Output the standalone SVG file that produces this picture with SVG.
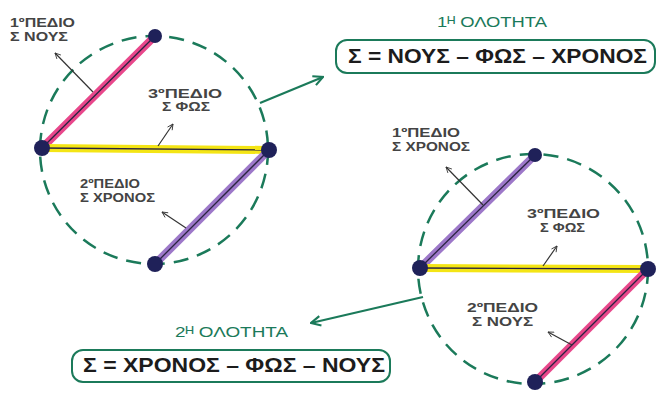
<svg xmlns="http://www.w3.org/2000/svg" width="669" height="403" viewBox="0 0 669 403">
<style>
.ring{fill:none;stroke:#1b7a5a;stroke-width:2.5;stroke-dasharray:15 9}
.dot{fill:#1f2159}
.core{stroke:#2a2440;stroke-width:1.3;fill:none}
.pink{stroke:#e8478b;stroke-width:8;stroke-linecap:round;fill:none}
.yel{stroke:#f4e515;stroke-width:8;fill:none}
.pur{stroke:#9d78c9;stroke-width:8;stroke-linecap:round;fill:none}
.lbl{font-family:"Liberation Sans","DejaVu Sans",sans-serif;font-size:12.5px;font-weight:bold;fill:#444}
.ttl{font-family:"Liberation Sans","DejaVu Sans",sans-serif;font-size:14px;fill:#1b7a5a}
.frm{font-family:"Liberation Sans","DejaVu Sans",sans-serif;font-size:21px;font-weight:bold;fill:#1c1c1c}
.box{fill:#fff;stroke:#1b7a5a;stroke-width:2}
.ptr{stroke:#333;stroke-width:1.2;fill:none;marker-end:url(#ah)}
.gar{stroke:#1b7a5a;stroke-width:2.2;fill:none;marker-end:url(#gh)}
</style>
<defs>
<marker id="ah" viewBox="0 0 10 10" refX="9" refY="5" markerWidth="7" markerHeight="7" orient="auto" markerUnits="userSpaceOnUse">
<path d="M1,1 L9,5 L1,9" fill="none" stroke="#333" stroke-width="1.2"/>
</marker>
<marker id="gh" viewBox="0 0 10 10" refX="9" refY="5" markerWidth="12" markerHeight="12" orient="auto" markerUnits="userSpaceOnUse">
<path d="M1,1 L9,5 L1,9" fill="none" stroke="#1b7a5a" stroke-width="1.8"/>
</marker>
</defs>
<rect width="669" height="403" fill="#ffffff"/>

<g id="circle1">
<circle class="ring" cx="154" cy="150" r="114"/>
<line class="pink" x1="42" y1="148" x2="155" y2="36"/>
<line class="core" x1="42" y1="148" x2="155" y2="36"/>
<line class="yel" x1="42" y1="148" x2="269" y2="150"/>
<line class="core" x1="42" y1="148" x2="269" y2="150"/>
<line class="pur" x1="269" y1="150" x2="155" y2="264"/>
<line class="core" x1="269" y1="150" x2="155" y2="264"/>
<circle class="dot" cx="42" cy="148" r="8"/>
<circle class="dot" cx="155" cy="36" r="7"/>
<circle class="dot" cx="269" cy="150" r="8"/>
<circle class="dot" cx="155" cy="264" r="8"/>
</g>

<g id="circle2">
<circle class="ring" cx="533" cy="269" r="115"/>
<line class="pur" x1="420" y1="268" x2="535" y2="155"/>
<line class="core" x1="420" y1="268" x2="535" y2="155"/>
<line class="yel" x1="420" y1="268" x2="648" y2="269"/>
<line class="core" x1="420" y1="268" x2="648" y2="269"/>
<line class="pink" x1="648" y1="269" x2="535" y2="382"/>
<line class="core" x1="648" y1="269" x2="535" y2="382"/>
<circle class="dot" cx="420" cy="268" r="8"/>
<circle class="dot" cx="535" cy="155" r="7"/>
<circle class="dot" cx="648" cy="269" r="8"/>
<circle class="dot" cx="535" cy="382" r="8"/>
</g>

<g id="label-c1-p1">
<text class="lbl" x="10" y="26.5" textLength="65" lengthAdjust="spacingAndGlyphs">1ºΠΕΔΙΟ</text>
<text class="lbl" x="10" y="40.5" textLength="58" lengthAdjust="spacingAndGlyphs">Σ ΝΟΥΣ</text>
</g>
<g id="label-c1-p3">
<text class="lbl" x="148" y="97.5" textLength="74" lengthAdjust="spacingAndGlyphs">3ºΠΕΔΙΟ</text>
<text class="lbl" x="162" y="111" textLength="48" lengthAdjust="spacingAndGlyphs">Σ ΦΩΣ</text>
</g>
<g id="label-c1-p2">
<text class="lbl" x="80" y="187.5" textLength="60" lengthAdjust="spacingAndGlyphs">2ºΠΕΔΙΟ</text>
<text class="lbl" x="80" y="202" textLength="75" lengthAdjust="spacingAndGlyphs">Σ ΧΡΟΝΟΣ</text>
</g>
<g id="label-c2-p1">
<text class="lbl" x="392" y="136.5" textLength="68" lengthAdjust="spacingAndGlyphs">1ºΠΕΔΙΟ</text>
<text class="lbl" x="392" y="151" textLength="78" lengthAdjust="spacingAndGlyphs">Σ ΧΡΟΝΟΣ</text>
</g>
<g id="label-c2-p3">
<text class="lbl" x="527" y="217.5" textLength="73" lengthAdjust="spacingAndGlyphs">3ºΠΕΔΙΟ</text>
<text class="lbl" x="540" y="232" textLength="45" lengthAdjust="spacingAndGlyphs">Σ ΦΩΣ</text>
</g>
<g id="label-c2-p2">
<text class="lbl" x="467" y="311.5" textLength="71" lengthAdjust="spacingAndGlyphs">2ºΠΕΔΙΟ</text>
<text class="lbl" x="472" y="326" textLength="61" lengthAdjust="spacingAndGlyphs">Σ ΝΟΥΣ</text>
</g>

<g id="whole1">
<text class="ttl" x="437" y="27" textLength="110" lengthAdjust="spacingAndGlyphs">1ᴴ ΟΛΟΤΗΤΑ</text>
<rect class="box" x="336" y="40" width="319" height="33" rx="11"/>
<text class="frm" x="348" y="63" textLength="299" lengthAdjust="spacingAndGlyphs">Σ = ΝΟΥΣ – ΦΩΣ – ΧΡΟΝΟΣ</text>
</g>
<g id="whole2">
<text class="ttl" x="175" y="337" textLength="113" lengthAdjust="spacingAndGlyphs">2ᴴ ΟΛΟΤΗΤΑ</text>
<rect class="box" x="72" y="350" width="318" height="32" rx="11"/>
<text class="frm" x="83" y="372" textLength="302" lengthAdjust="spacingAndGlyphs">Σ = ΧΡΟΝΟΣ – ΦΩΣ – ΝΟΥΣ</text>
</g>

<g id="connectors">
<line class="ptr" x1="93" y1="92" x2="55" y2="53"/>
<line class="ptr" x1="158" y1="146" x2="173" y2="124"/>
<line class="ptr" x1="186" y1="228" x2="162" y2="212"/>
<line class="ptr" x1="483" y1="205" x2="446" y2="167"/>
<line class="ptr" x1="543" y1="266" x2="557" y2="246"/>
<line class="ptr" x1="572" y1="345" x2="548" y2="332"/>
<line class="gar" x1="260" y1="103" x2="323" y2="77"/>
<line class="gar" x1="423" y1="297" x2="311" y2="323"/>
</g>
</svg>
